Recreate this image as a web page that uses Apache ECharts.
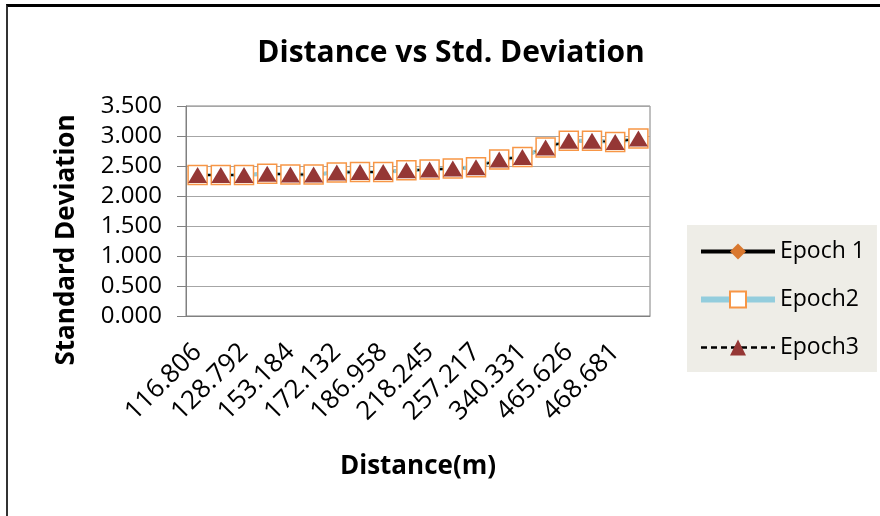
<!DOCTYPE html>
<html>
<head>
<meta charset="utf-8">
<script src="https://cdn.jsdelivr.net/npm/echarts@6/dist/echarts.min.js"></script>
<style>
  html, body { margin: 0; padding: 0; background: #fff; }
  #frame { position: absolute; left: 6px; top: 4px; width: 874px; height: 512px;
           border-top: 3px solid #000; border-left: 2px solid #333; box-sizing: border-box; }
  #main { position: absolute; left: 0; top: 0; width: 880px; height: 516px; }
</style>
</head>
<body>
<div id="main"></div>
<div id="frame"></div>
<script>
// distances (m); only every other one is labelled on the axis
const distances = ['116.806', '121.447', '128.792', '140.215', '153.184', '161.730', '172.132', '180.566',
  '186.958', '203.119', '218.245', '236.482', '257.217', '298.604', '340.331', '412.975',
  '465.626', '467.310', '468.681', '471.052'];
const epoch1 = [2.35, 2.35, 2.35, 2.37, 2.36, 2.36, 2.39, 2.40, 2.40, 2.43,
  2.44, 2.46, 2.48, 2.61, 2.65, 2.81, 2.92, 2.92, 2.90, 2.96];
const epoch2 = [2.35, 2.35, 2.35, 2.37, 2.36, 2.36, 2.39, 2.40, 2.40, 2.43,
  2.44, 2.46, 2.48, 2.61, 2.65, 2.81, 2.92, 2.92, 2.90, 2.96];
const epoch3 = [2.35, 2.35, 2.35, 2.37, 2.36, 2.36, 2.39, 2.40, 2.40, 2.43,
  2.44, 2.46, 2.48, 2.61, 2.65, 2.81, 2.92, 2.92, 2.90, 2.96];

const font = '"Open Sans", sans-serif';
const chart = echarts.init(document.getElementById('main'));

chart.setOption({
  backgroundColor: '#fff',
  animation: false,
  title: {
    text: 'Distance vs Std. Deviation',
    left: 446,
    top: 33,
    textAlign: 'center',
    textStyle: { fontFamily: font, fontSize: 30, fontWeight: 'bold', color: '#000' },
  },
  legend: {
    orient: 'vertical',
    left: 687,
    top: 225,
    padding: [15, 12, 13, 11],
    backgroundColor: '#EEEDE7',
    itemWidth: 74,
    itemHeight: 20,
    itemGap: 25,
    textStyle: { fontFamily: font, fontSize: 23, color: '#000' },
    data: [
      { name: 'Epoch 1', lineStyle: { width: 4 } },
      { name: 'Epoch2', lineStyle: { width: 6 } },
      { name: 'Epoch3', lineStyle: { width: 2.5 } },
    ],
  },
  grid: {
    left: 186,
    right: 230,
    top: 106,
    height: 210,
    show: true,
    borderColor: '#808080',
    borderWidth: 1,
  },
  xAxis: {
    type: 'category',
    data: distances,
    boundaryGap: true,
    name: 'Distance(m)',
    nameLocation: 'middle',
    nameGap: 138,
    nameTextStyle: { fontFamily: font, fontSize: 26, fontWeight: 'bold', color: '#000' },
    axisLine: { lineStyle: { color: '#808080' } },
    axisTick: { show: false },
    axisLabel: {
      interval: 1,
      rotate: 45,
      margin: 32,
      fontFamily: font,
      fontSize: 26,
      color: '#000',
    },
  },
  yAxis: {
    type: 'value',
    min: 0,
    max: 3.5,
    interval: 0.5,
    name: 'Standard Deviation',
    nameLocation: 'middle',
    nameGap: 106,
    nameTextStyle: {
      fontFamily: font, fontSize: 26, fontWeight: 'bold', color: '#000',
      padding: [0, 58, 0, 0],
    },
    axisLine: { show: true, lineStyle: { color: '#808080' } },
    axisTick: { show: true, length: 9, lineStyle: { color: '#808080' } },
    splitLine: { lineStyle: { color: '#a6a6a6' } },
    axisLabel: {
      margin: 24,
      fontFamily: font,
      fontSize: 24,
      color: '#000',
      formatter: (v) => v.toFixed(3),
    },
  },
  series: [
    {
      name: 'Epoch 1',
      type: 'line',
      data: epoch1,
      showAllSymbol: true,
      symbol: 'diamond',
      symbolSize: 14,
      itemStyle: { color: '#D9782F' },
      lineStyle: { color: '#000', width: 3 },
    },
    {
      name: 'Epoch2',
      type: 'line',
      data: epoch2,
      showAllSymbol: true,
      symbol: 'rect',
      symbolSize: 19,
      itemStyle: { color: '#fff', borderColor: '#F79646', borderWidth: 1.5 },
      lineStyle: { color: '#93CDDD', width: 4 },
    },
    {
      name: 'Epoch3',
      type: 'line',
      data: epoch3,
      showAllSymbol: true,
      symbol: 'triangle',
      symbolSize: [19, 16],
      itemStyle: { color: '#953735' },
      lineStyle: { color: '#000', width: 2, type: [6, 4] },
    },
  ],
});
</script>
</body>
</html>
